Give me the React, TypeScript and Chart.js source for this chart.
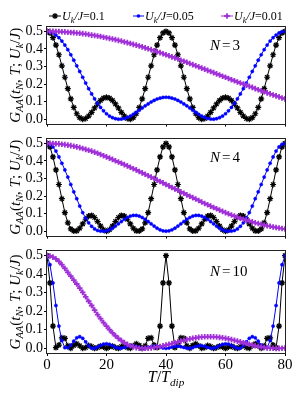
import React, { useEffect, useRef } from "react";
import { Chart, registerables } from "chart.js";

Chart.register(...registerables);

// ---------- data ----------
const T_STEPS = [
  0, 1, 2, 3, 4, 5, 6, 7, 8, 9, 10, 11, 12, 13, 14, 15, 16, 17, 18, 19, 20,
  21, 22, 23, 24, 25, 26, 27, 28, 29, 30, 31, 32, 33, 34, 35, 36, 37, 38, 39, 40,
  41, 42, 43, 44, 45, 46, 47, 48, 49, 50, 51, 52, 53, 54, 55, 56, 57, 58, 59, 60,
  61, 62, 63, 64, 65, 66, 67, 68, 69, 70, 71, 72, 73, 74, 75, 76, 77, 78, 79, 80,
];
const X_TICKS = [0, 20, 40, 60, 80];
const Y_TICKS = [0, 0.1, 0.2, 0.3, 0.4, 0.5];
const U_LABELS = ["0.1", "0.05", "0.01"];
const N_LABELS = ["3", "4", "10"];

// N = 3
const N3_U010 = [
  0.500, 0.491, 0.464, 0.422, 0.367, 0.304, 0.239, 0.174, 0.116, 0.067,
  0.031, 0.009, 0.000, 0.004, 0.018, 0.039, 0.064, 0.087, 0.107, 0.120,
  0.125, 0.120, 0.107, 0.087, 0.064, 0.039, 0.018, 0.004, 0.000, 0.009,
  0.031, 0.067, 0.116, 0.174, 0.239, 0.304, 0.367, 0.422, 0.464, 0.491,
  0.500, 0.491, 0.464, 0.422, 0.367, 0.304, 0.239, 0.174, 0.116, 0.067,
  0.031, 0.009, 0.000, 0.004, 0.018, 0.039, 0.064, 0.087, 0.107, 0.120,
  0.125, 0.120, 0.107, 0.087, 0.064, 0.039, 0.018, 0.004, 0.000, 0.009,
  0.031, 0.067, 0.116, 0.174, 0.239, 0.304, 0.367, 0.422, 0.464, 0.491,
  0.500,
];
const N3_U005 = [
  0.500, 0.498, 0.491, 0.479, 0.464, 0.445, 0.422, 0.396, 0.367, 0.336,
  0.304, 0.272, 0.239, 0.206, 0.174, 0.144, 0.116, 0.090, 0.067, 0.048,
  0.031, 0.018, 0.009, 0.003, 0.000, 0.001, 0.004, 0.010, 0.018, 0.028,
  0.039, 0.051, 0.064, 0.076, 0.087, 0.098, 0.107, 0.115, 0.120, 0.124,
  0.125, 0.124, 0.120, 0.115, 0.107, 0.098, 0.087, 0.076, 0.064, 0.051,
  0.039, 0.028, 0.018, 0.010, 0.004, 0.001, 0.000, 0.003, 0.009, 0.018,
  0.031, 0.048, 0.067, 0.090, 0.116, 0.144, 0.174, 0.206, 0.239, 0.272,
  0.304, 0.336, 0.367, 0.396, 0.422, 0.445, 0.464, 0.479, 0.491, 0.498,
  0.500,
];
const N3_U001 = [
  0.500, 0.500, 0.500, 0.499, 0.499, 0.498, 0.497, 0.495, 0.494, 0.493,
  0.491, 0.489, 0.487, 0.485, 0.482, 0.479, 0.477, 0.474, 0.471, 0.467,
  0.464, 0.460, 0.457, 0.453, 0.449, 0.445, 0.440, 0.436, 0.431, 0.426,
  0.422, 0.417, 0.412, 0.406, 0.401, 0.396, 0.390, 0.384, 0.379, 0.373,
  0.367, 0.361, 0.355, 0.349, 0.343, 0.336, 0.330, 0.324, 0.317, 0.311,
  0.304, 0.298, 0.291, 0.285, 0.278, 0.272, 0.265, 0.258, 0.252, 0.245,
  0.239, 0.232, 0.225, 0.219, 0.212, 0.206, 0.200, 0.193, 0.187, 0.181,
  0.174, 0.168, 0.162, 0.156, 0.150, 0.144, 0.138, 0.133, 0.127, 0.121,
  0.116,
];

// N = 4
const N4_U010 = [
  0.500, 0.480, 0.423, 0.349, 0.266, 0.185, 0.106, 0.048, 0.013, 0.001,
  0.002, 0.017, 0.042, 0.068, 0.086, 0.090, 0.078, 0.055, 0.029, 0.008,
  0.000, 0.008, 0.029, 0.055, 0.078, 0.090, 0.086, 0.068, 0.042, 0.017,
  0.002, 0.001, 0.013, 0.048, 0.106, 0.185, 0.266, 0.349, 0.423, 0.480,
  0.500, 0.480, 0.423, 0.349, 0.266, 0.185, 0.106, 0.048, 0.013, 0.001,
  0.002, 0.017, 0.042, 0.068, 0.086, 0.090, 0.078, 0.055, 0.029, 0.008,
  0.000, 0.008, 0.029, 0.055, 0.078, 0.090, 0.086, 0.068, 0.042, 0.017,
  0.002, 0.001, 0.013, 0.048, 0.106, 0.185, 0.266, 0.349, 0.423, 0.480,
  0.500,
];
const N4_U005 = [
  0.500, 0.495, 0.480, 0.456, 0.423, 0.387, 0.349, 0.308, 0.266, 0.224,
  0.185, 0.143, 0.106, 0.074, 0.048, 0.028, 0.013, 0.004, 0.001, 0.000,
  0.002, 0.008, 0.017, 0.029, 0.042, 0.055, 0.068, 0.078, 0.086, 0.090,
  0.090, 0.086, 0.078, 0.068, 0.055, 0.042, 0.029, 0.017, 0.008, 0.002,
  0.000, 0.002, 0.008, 0.017, 0.029, 0.042, 0.055, 0.068, 0.078, 0.086,
  0.090, 0.090, 0.086, 0.078, 0.068, 0.055, 0.042, 0.029, 0.017, 0.008,
  0.002, 0.000, 0.001, 0.004, 0.013, 0.028, 0.048, 0.074, 0.106, 0.143,
  0.185, 0.224, 0.266, 0.308, 0.349, 0.387, 0.423, 0.456, 0.480, 0.495,
  0.500,
];
const N4_U001 = [
  0.500, 0.500, 0.499, 0.498, 0.497, 0.495, 0.493, 0.490, 0.487, 0.484,
  0.480, 0.476, 0.471, 0.466, 0.461, 0.456, 0.450, 0.444, 0.437, 0.430,
  0.423, 0.416, 0.409, 0.401, 0.394, 0.387, 0.379, 0.372, 0.364, 0.356,
  0.349, 0.340, 0.332, 0.324, 0.316, 0.308, 0.300, 0.291, 0.283, 0.275,
  0.266, 0.258, 0.249, 0.241, 0.233, 0.224, 0.216, 0.207, 0.199, 0.191,
  0.183, 0.175, 0.166, 0.158, 0.151, 0.143, 0.135, 0.128, 0.120, 0.113,
  0.106, 0.099, 0.092, 0.086, 0.080, 0.074, 0.068, 0.063, 0.058, 0.053,
  0.048, 0.044, 0.039, 0.035, 0.031, 0.028, 0.024, 0.021, 0.018, 0.015,
  0.013,
];

// N = 10
const N10_U010 = [
  0.500, 0.353, 0.120, 0.004, 0.018, 0.057, 0.054, 0.014, 0.001, 0.016,
  0.025, 0.014, 0.001, 0.005, 0.015, 0.010, 0.000, 0.005, 0.012, 0.007,
  0.000, 0.007, 0.012, 0.005, 0.000, 0.010, 0.015, 0.005, 0.001, 0.014,
  0.025, 0.016, 0.001, 0.014, 0.054, 0.057, 0.018, 0.004, 0.120, 0.353,
  0.500, 0.353, 0.120, 0.004, 0.018, 0.057, 0.054, 0.014, 0.001, 0.016,
  0.025, 0.014, 0.001, 0.005, 0.015, 0.010, 0.000, 0.005, 0.012, 0.007,
  0.000, 0.007, 0.012, 0.005, 0.000, 0.010, 0.015, 0.005, 0.001, 0.014,
  0.025, 0.016, 0.001, 0.014, 0.054, 0.057, 0.018, 0.004, 0.120, 0.353,
  0.500,
];
const N10_U005 = [
  0.500, 0.451, 0.353, 0.231, 0.120, 0.042, 0.004, 0.003, 0.018, 0.039,
  0.057, 0.063, 0.054, 0.035, 0.014, 0.001, 0.001, 0.007, 0.016, 0.023,
  0.025, 0.022, 0.014, 0.006, 0.001, 0.001, 0.005, 0.011, 0.015, 0.014,
  0.010, 0.004, 0.000, 0.001, 0.005, 0.009, 0.012, 0.011, 0.007, 0.002,
  0.000, 0.002, 0.007, 0.011, 0.012, 0.009, 0.005, 0.001, 0.000, 0.004,
  0.010, 0.014, 0.015, 0.011, 0.005, 0.001, 0.001, 0.006, 0.014, 0.022,
  0.025, 0.023, 0.016, 0.007, 0.001, 0.001, 0.014, 0.035, 0.054, 0.063,
  0.057, 0.039, 0.018, 0.003, 0.004, 0.042, 0.120, 0.231, 0.353, 0.451,
  0.500,
];
const N10_U001 = [
  0.500, 0.498, 0.492, 0.482, 0.469, 0.451, 0.431, 0.410, 0.389, 0.368,
  0.347, 0.325, 0.302, 0.278, 0.254, 0.231, 0.206, 0.182, 0.160, 0.139,
  0.120, 0.101, 0.084, 0.068, 0.054, 0.042, 0.031, 0.022, 0.014, 0.008,
  0.004, 0.001, 0.000, 0.0003, 0.0012, 0.0027, 0.0048, 0.0074, 0.0104, 0.0139,
  0.0177, 0.0218, 0.0260, 0.0304, 0.0348, 0.0391, 0.0433, 0.0473, 0.0509, 0.0542,
  0.0570, 0.0593, 0.0611, 0.0623, 0.0629, 0.0629, 0.0623, 0.0611, 0.0593, 0.0570,
  0.0542, 0.0509, 0.0473, 0.0433, 0.0391, 0.0348, 0.0304, 0.0260, 0.0218, 0.0177,
  0.0139, 0.0104, 0.0074, 0.0048, 0.0027, 0.0012, 0.0003, 0.000, 0.0001, 0.0005,
  0.0011,
];

const PANEL_SERIES = [
  [N3_U010, N3_U005, N3_U001],
  [N4_U010, N4_U005, N4_U001],
  [N10_U010, N10_U005, N10_U001],
];

// ---------- styles ----------
const COLORS = ["#000000", "#0000ff", "#a030d8"];
const SERIF = '"Liberation Serif", "Times New Roman", Times, serif';

type Part = { t: string; it?: boolean; sub?: boolean; gap?: number };

function partFont(p: Part, size: number) {
  const s = p.sub ? size * 0.7 : size;
  return `${p.it ? "italic " : ""}${s}px ${SERIF}`;
}

function drawParts(
  ctx: CanvasRenderingContext2D,
  parts: Part[],
  x: number,
  y: number,
  size: number,
  align: "left" | "center"
) {
  ctx.textAlign = "left";
  ctx.textBaseline = "alphabetic";
  let w = 0;
  parts.forEach((p) => {
    ctx.font = partFont(p, size);
    w += ctx.measureText(p.t).width + (p.gap || 0);
  });
  let cx = align === "center" ? x - w / 2 : x;
  parts.forEach((p) => {
    ctx.font = partFont(p, size);
    ctx.fillText(p.t, cx, y + (p.sub ? size * 0.25 : 0));
    cx += ctx.measureText(p.t).width + (p.gap || 0);
  });
}

function drawMarker(ctx: CanvasRenderingContext2D, kind: number, x: number, y: number) {
  ctx.save();
  ctx.strokeStyle = COLORS[kind];
  ctx.fillStyle = COLORS[kind];
  if (kind === 0) {
    const r = 3;
    ctx.lineWidth = 1.2;
    ctx.beginPath();
    for (let a = 0; a < 4; a++) {
      const ang = (a * Math.PI) / 4;
      ctx.moveTo(x - r * Math.cos(ang), y - r * Math.sin(ang));
      ctx.lineTo(x + r * Math.cos(ang), y + r * Math.sin(ang));
    }
    ctx.stroke();
  } else if (kind === 1) {
    ctx.beginPath();
    ctx.arc(x, y, 1.8, 0, Math.PI * 2);
    ctx.fill();
  } else {
    const r = 2.8;
    ctx.lineWidth = 1.8;
    ctx.beginPath();
    ctx.moveTo(x - r, y);
    ctx.lineTo(x + r, y);
    ctx.moveTo(x, y - r);
    ctx.lineTo(x, y + r);
    ctx.stroke();
  }
  ctx.restore();
}

const GEOM = [
  { top: 0, height: 133, padTop: 27, xh: 4, nDy: 23 },
  { top: 120, height: 125, padTop: 19, xh: 4, nDy: 23 },
  { top: 232, height: 168, padTop: 19, xh: 47, nDy: 25 },
];

const LEGEND_POS = [
  { x1: 49, x2: 61 },
  { x1: 133, x2: 144 },
  { x1: 221, x2: 233 },
];

function buildConfig(idx: number): any {
  const g = GEOM[idx];
  const isBottom = idx === 2;
  const series = PANEL_SERIES[idx];

  const datasets = series.map((vals, k) => ({
    label: `U_k/J=${U_LABELS[k]}`,
    data: T_STEPS.map((t, i) => ({ x: t, y: vals[i] })),
    borderColor: COLORS[k],
    backgroundColor: COLORS[k],
    borderWidth: k === 2 ? 1.5 : 1,
    pointStyle: k === 0 ? "star" : k === 1 ? "circle" : "cross",
    pointRadius: k === 0 ? 3 : k === 1 ? 1.6 : 2.8,
    pointBorderWidth: k === 0 ? 1.2 : k === 1 ? 0.5 : 1.8,
    pointBorderColor: COLORS[k],
    pointBackgroundColor: COLORS[k],
    tension: 0,
    order: 2 - k,
  }));

  const overlay = {
    id: "overlay" + idx,
    afterDatasetsDraw(chart: any) {
      const ctx: CanvasRenderingContext2D = chart.ctx;
      const a = chart.chartArea;
      ctx.save();
      ctx.strokeStyle = "#222";
      ctx.lineWidth = 1;
      ctx.strokeRect(
        Math.round(a.left) - 0.5,
        Math.round(a.top) - 0.5,
        Math.round(a.right) - Math.round(a.left) + 1,
        Math.round(a.bottom) - Math.round(a.top) + 1
      );
      ctx.restore();
    },
    afterDraw(chart: any) {
      const ctx: CanvasRenderingContext2D = chart.ctx;
      const a = chart.chartArea;
      ctx.save();
      ctx.fillStyle = "#000";
      drawParts(
        ctx,
        [{ t: "N", it: true, gap: 2 }, { t: "=", gap: 2 }, { t: N_LABELS[idx] }],
        210,
        a.top + g.nDy,
        15,
        "left"
      );
      ctx.save();
      ctx.translate(19.5, (a.top + a.bottom) / 2);
      ctx.rotate(-Math.PI / 2);
      drawParts(
        ctx,
        [
          { t: "G", it: true },
          { t: "AA", it: true, sub: true },
          { t: "(" },
          { t: "t", it: true },
          { t: "N", it: true, sub: true },
          { t: ", " },
          { t: "T", it: true },
          { t: "; " },
          { t: "U", it: true },
          { t: "k", it: true, sub: true },
          { t: "/" },
          { t: "J", it: true },
          { t: ")" },
        ],
        0,
        0,
        15,
        "center"
      );
      ctx.restore();
      if (isBottom) {
        drawParts(
          ctx,
          [
            { t: "T", it: true },
            { t: "/" },
            { t: "T", it: true },
            { t: "dip", it: true, sub: true },
          ],
          (a.left + a.right) / 2,
          150,
          16,
          "center"
        );
      }
      if (idx === 0) {
        const ly = 16;
        U_LABELS.forEach((u, k) => {
          const p = LEGEND_POS[k];
          ctx.save();
          ctx.strokeStyle = COLORS[k];
          ctx.lineWidth = 1;
          ctx.beginPath();
          ctx.moveTo(p.x1, ly);
          ctx.lineTo(p.x2, ly);
          ctx.stroke();
          ctx.restore();
          drawMarker(ctx, k, (p.x1 + p.x2) / 2, ly);
          ctx.fillStyle = "#000";
          drawParts(
            ctx,
            [
              { t: "U", it: true },
              { t: "k", it: true, sub: true },
              { t: "/J", it: true },
              { t: "=" + u },
            ],
            p.x2 + 1,
            ly + 4,
            12,
            "left"
          );
        });
      }
      ctx.restore();
    },
  };

  return {
    type: "line",
    data: { datasets },
    options: {
      responsive: false,
      maintainAspectRatio: false,
      animation: false,
      devicePixelRatio: 1,
      parsing: false,
      layout: { padding: { top: g.padTop, right: 15, bottom: 0, left: 0 } },
      plugins: { legend: { display: false }, tooltip: { enabled: false }, title: { display: false } },
      scales: {
        x: {
          type: "linear",
          min: 0,
          max: 80,
          afterBuildTicks: (s: any) => {
            s.ticks = X_TICKS.map((v) => ({ value: v }));
          },
          afterFit: (s: any) => {
            s.height = g.xh;
          },
          ticks: {
            display: isBottom,
            autoSkip: false,
            maxRotation: 0,
            padding: 0,
            color: "#000",
            font: { family: SERIF, size: 15 },
            callback: (v: any) => String(v),
          },
          grid: {
            display: true,
            drawOnChartArea: false,
            drawTicks: true,
            tickLength: 3,
            color: "#000",
            tickColor: "#000",
            tickWidth: 1,
          },
          border: { display: false },
        },
        y: {
          type: "linear",
          min: -0.025,
          max: 0.525,
          afterBuildTicks: (s: any) => {
            s.ticks = Y_TICKS.map((v) => ({ value: v }));
          },
          afterFit: (s: any) => {
            s.width = 47;
          },
          ticks: {
            padding: 1,
            color: "#000",
            font: { family: SERIF, size: 14 },
            callback: (v: any) => Number(v).toFixed(1),
          },
          grid: {
            display: true,
            drawOnChartArea: false,
            drawTicks: true,
            tickLength: 3,
            color: "#000",
            tickColor: "#000",
            tickWidth: 1,
          },
          border: { display: false },
        },
      },
    },
    plugins: [overlay],
  };
}

function Panel({ idx }: { idx: number }) {
  const ref = useRef<HTMLCanvasElement | null>(null);
  useEffect(() => {
    if (!ref.current) return;
    const chart = new Chart(ref.current, buildConfig(idx));
    return () => chart.destroy();
  }, [idx]);
  const g = GEOM[idx];
  return (
    <canvas
      ref={ref}
      width={300}
      height={g.height}
      style={{ position: "absolute", left: 0, top: g.top, width: 300, height: g.height }}
    />
  );
}

export default function App() {
  return (
    <div
      style={{
        position: "absolute",
        left: 0,
        top: 0,
        width: 300,
        height: 400,
        background: "#fff",
        overflow: "hidden",
      }}
    >
      <Panel idx={0} />
      <Panel idx={1} />
      <Panel idx={2} />
    </div>
  );
}
